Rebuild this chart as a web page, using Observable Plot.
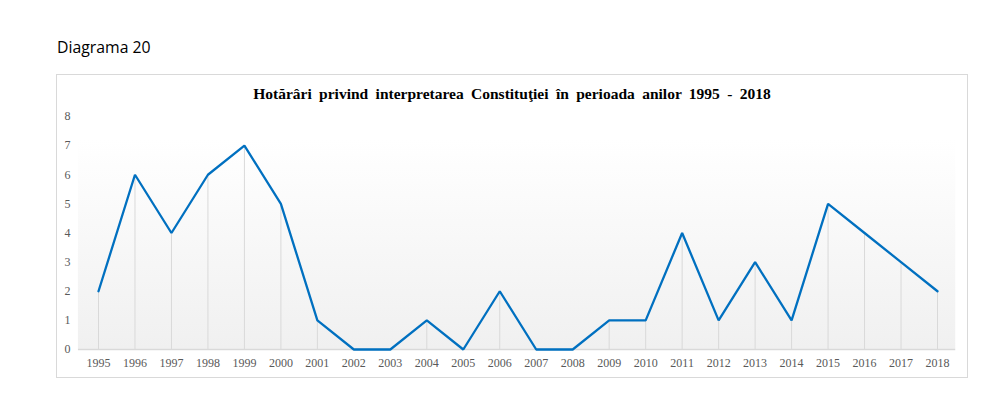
<!DOCTYPE html>
<html><head><meta charset="utf-8">
<script src="https://cdn.jsdelivr.net/npm/d3@7"></script>
<script src="https://cdn.jsdelivr.net/npm/@observablehq/plot@0.6"></script>
<style>
body{margin:0;background:#fff;width:983px;height:416px;position:relative;overflow:hidden;}
#cap{position:absolute;left:57px;top:36px;font-family:"Open Sans",sans-serif;font-size:15.8px;color:#000;}
#box{position:absolute;left:56px;top:74px;width:910px;height:302px;border:1px solid #d9d9d9;}
#title{position:absolute;left:0;top:10px;width:910px;text-align:center;font-family:"Liberation Serif","Times New Roman",serif;font-weight:bold;font-size:15.5px;word-spacing:3.5px;color:#000;}
#chart{position:absolute;left:0;top:30px;}
</style></head>
<body>
<div id="cap">Diagrama 20</div>
<div id="box"><div id="title">Hotărâri privind interpretarea Constituţiei în perioada anilor 1995 - 2018</div><div id="chart"></div></div>
<script>
const years = [1995,1996,1997,1998,1999,2000,2001,2002,2003,2004,2005,2006,2007,2008,2009,2010,2011,2012,2013,2014,2015,2016,2017,2018];
const values = [2,6,4,6,7,5,1,0,0,1,0,2,0,0,1,1,4,1,3,1,5,4,3,2];
const yTicks = [0,1,2,3,4,5,6,7,8];
const data = years.map((y,i)=>({year:y, value:values[i]}));

const W = 910, H = 272;
const bg = (index, scales, vals, dims) => {
  const ns = "http://www.w3.org/2000/svg";
  const g = document.createElementNS(ns,"g");
  const defs = document.createElementNS(ns,"defs");
  defs.innerHTML = '<linearGradient id="bgGrad" x1="0" y1="0" x2="0" y2="1"><stop offset="0" stop-color="#ffffff"/><stop offset="1" stop-color="#f0f0f0"/></linearGradient>';
  g.appendChild(defs);
  const step = scales.x(years[1]) - scales.x(years[0]);
  const x0 = scales.x(years[0]) - step*0.55, x1 = scales.x(years[years.length-1]) + step*0.5;
  const r = document.createElementNS(ns,"rect");
  r.setAttribute("x", x0); r.setAttribute("width", x1-x0);
  r.setAttribute("y", scales.y(7.2)); r.setAttribute("height", scales.y(0)-scales.y(7.2));
  r.setAttribute("fill","url(#bgGrad)");
  g.appendChild(r);
  const l = document.createElementNS(ns,"line");
  l.setAttribute("x1",x0); l.setAttribute("x2",x1);
  l.setAttribute("y1",scales.y(0)+0.5); l.setAttribute("y2",scales.y(0)+0.5);
  l.setAttribute("stroke","#d9d9d9"); l.setAttribute("stroke-width",1.5);
  g.appendChild(l);
  return g;
};

const plot = Plot.plot({
  width: W, height: H,
  marginTop: 11, marginBottom: 28, marginLeft: 41, marginRight: 30,
  style: {fontFamily: '"Liberation Serif","Times New Roman",serif', fontSize: "12px", color: "#595959", background: "transparent", overflow: "visible"},
  x: {domain: [1995, 2018], label: null},
  y: {domain: [0, 8], label: null},
  marks: [
    bg,
    Plot.ruleX(data, {x: "year", y1: 0, y2: "value", stroke: "#d9d9d9", strokeWidth: 1}),
    Plot.line(data, {x: "year", y: "value", stroke: "#0070C0", strokeWidth: 2.3, strokeLinejoin: "miter"}),
    Plot.axisY({ticks: yTicks, tickSize: 0, tickPadding: 28, tickFormat: d => String(d), fill: "#595959"}),
    Plot.axisX({ticks: years, tickSize: 0, tickPadding: 9, tickFormat: d => String(d), fill: "#595959"})
  ]
});
document.getElementById("chart").appendChild(plot);
</script>
</body></html>
